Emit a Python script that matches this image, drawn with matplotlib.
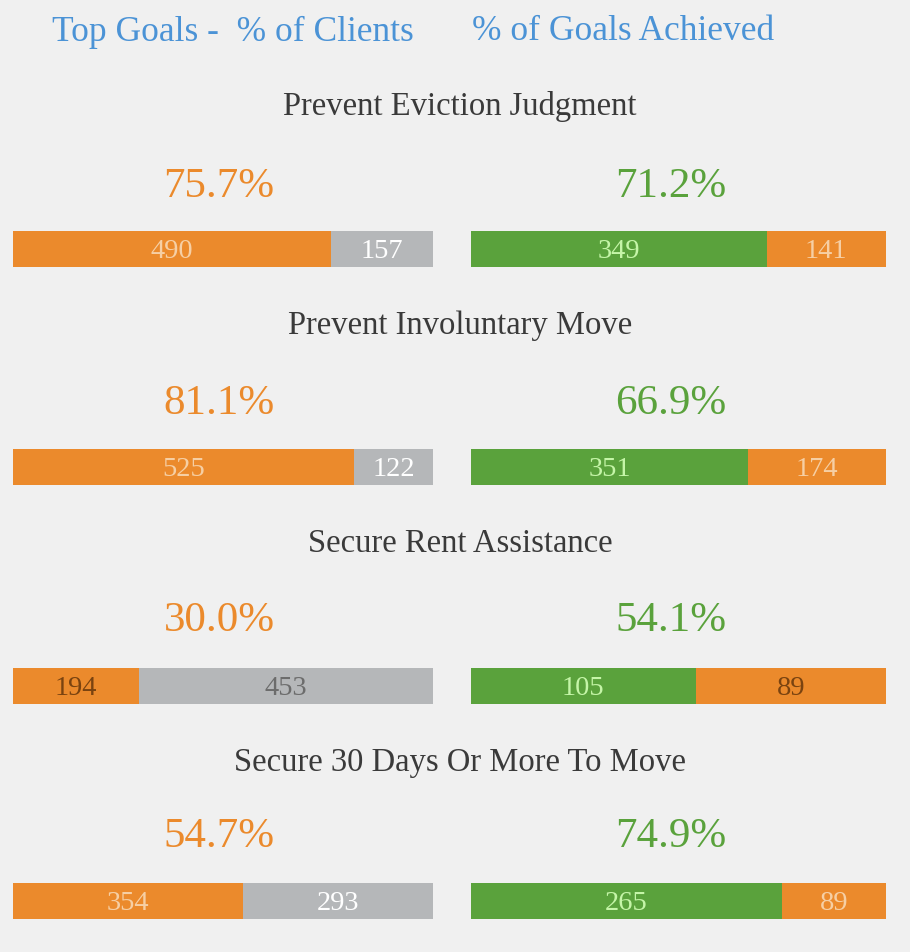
import matplotlib
matplotlib.use("Agg")
import matplotlib.pyplot as plt

plt.rcParams['font.family'] = ['Liberation Serif', 'DejaVu Serif']

goals = ["Prevent Eviction Judgment", "Prevent Involuntary Move",
         "Secure Rent Assistance", "Secure 30 Days Or More To Move"]
clients_yes = [490, 525, 194, 354]
clients_no = [157, 122, 453, 293]
achieved = [349, 351, 105, 265]
not_achieved = [141, 174, 89, 89]

# label colours inside the bars (row 3 uses dark text)
lbl_orange = ["#f6cfa4", "#f6cfa4", "#7a4310", "#f6cfa4"]
lbl_gray = ["#ffffff", "#ffffff", "#6c6c6c", "#ffffff"]
lbl_green = ["#c5f5a8", "#c5f5a8", "#c5f5a8", "#c5f5a8"]
lbl_orange2 = ["#f6cfa4", "#f6cfa4", "#7a4310", "#f6cfa4"]

ORANGE = "#eb8a2c"
GRAY = "#b5b7b9"
GREEN = "#5aa23c"
BLUE = "#4b93d6"
BG = "#f0f0f0"

W, H = 910, 952
fig = plt.figure(figsize=(W / 100, H / 100), dpi=100, facecolor=BG)

def fx(px):
    return px / W

def fy(py):
    return 1 - py / H

fig.text(fx(52), fy(32), "Top Goals -  % of Clients", color=BLUE, fontsize=25.5,
         ha="left", va="center")
fig.text(fx(472), fy(32), "% of Goals Achieved", color=BLUE, fontsize=25.5,
         ha="left", va="center")

title_y = [107, 326, 544, 763]
pct_y = [187, 404, 621, 837]
bar_y = [249, 467, 686, 901]
bar_h = 36

def bar(ax_rect, a, b, ca, cb, la, lb):
    ax = fig.add_axes(ax_rect)
    ax.barh([0], [a], color=ca, height=1, left=0)
    ax.barh([0], [b], color=cb, height=1, left=a)
    ax.set_xlim(0, a + b)
    ax.set_ylim(-0.5, 0.5)
    ax.axis("off")
    ax.text(a / 2, -0.08, str(a), color=la, fontsize=20.5, ha="center", va="center")
    ax.text(a + b / 2, -0.08, str(b), color=lb, fontsize=20.5, ha="center", va="center")

for i in range(len(goals)):
    fig.text(fx(460), fy(title_y[i]), goals[i], color="#3a3a3a", fontsize=23.5,
             ha="center", va="center")
    p1 = 100 * clients_yes[i] / (clients_yes[i] + clients_no[i])
    p2 = 100 * achieved[i] / (achieved[i] + not_achieved[i])
    fig.text(fx(219), fy(pct_y[i]), f"{p1:.1f}%", color=ORANGE, fontsize=31,
             ha="center", va="center")
    fig.text(fx(671), fy(pct_y[i]), f"{p2:.1f}%", color=GREEN, fontsize=31,
             ha="center", va="center")
    yb = fy(bar_y[i] + bar_h / 2)
    bar([fx(13), yb, fx(420), bar_h / H], clients_yes[i], clients_no[i],
        ORANGE, GRAY, lbl_orange[i], lbl_gray[i])
    bar([fx(471), yb, fx(415), bar_h / H], achieved[i], not_achieved[i],
        GREEN, ORANGE, lbl_green[i], lbl_orange2[i])

fig.savefig("out.png", dpi=100, facecolor=BG)
